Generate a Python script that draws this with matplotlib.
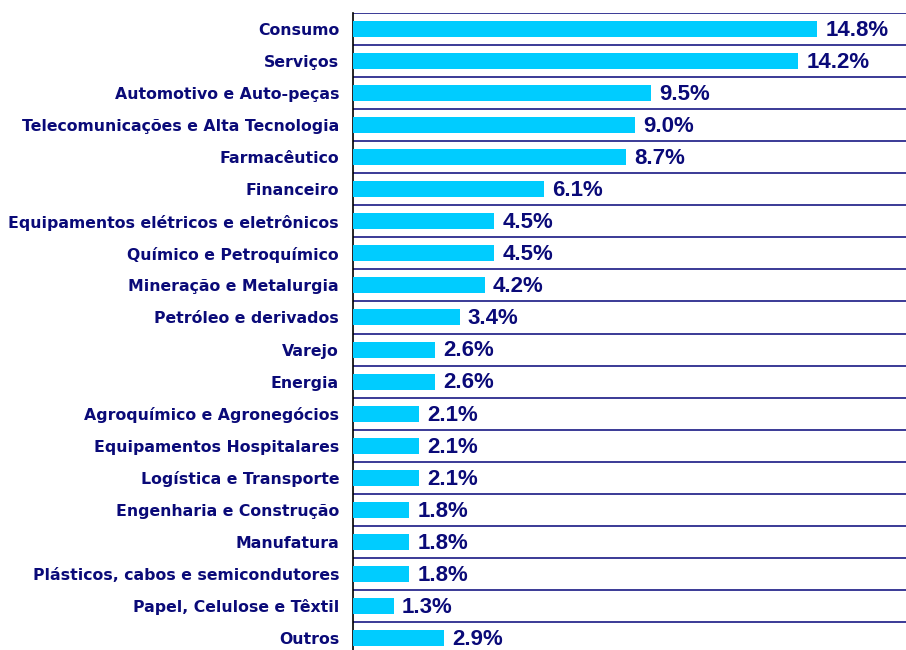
import numpy as np
import matplotlib
matplotlib.use("Agg")
import matplotlib.pyplot as plt
from matplotlib.ticker import FixedLocator

plt.rcParams["font.family"] = ["Liberation Sans", "DejaVu Sans"]

sectors = ["Consumo", "Serviços", "Automotivo e Auto-peças",
           "Telecomunicações e Alta Tecnologia", "Farmacêutico", "Financeiro",
           "Equipamentos elétricos e eletrônicos", "Químico e Petroquímico",
           "Mineração e Metalurgia", "Petróleo e derivados", "Varejo", "Energia",
           "Agroquímico e Agronegócios", "Equipamentos Hospitalares",
           "Logística e Transporte", "Engenharia e Construção", "Manufatura",
           "Plásticos, cabos e semicondutores", "Papel, Celulose e Têxtil",
           "Outros"]
shares = [14.8, 14.2, 9.5, 9.0, 8.7, 6.1, 4.5, 4.5, 4.2, 3.4, 2.6, 2.6,
          2.1, 2.1, 2.1, 1.8, 1.8, 1.8, 1.3, 2.9]

NAVY = "#0a0a78"
BAR = "#00ccff"
GRID = "#3a3a96"

fig = plt.figure(figsize=(9.06, 6.5), dpi=100)
ax = fig.add_axes([353 / 906, -4 / 650, 1 - 353 / 906, 641 / 650])

y = np.arange(len(sectors))
ax.barh(y, shares, height=0.5, color=BAR, zorder=3)

# value labels just right of each bar
for yi, v in zip(y, shares):
    ax.annotate(f"{v:.1f}%", xy=(v, yi), xytext=(6, -1),
                textcoords="offset points", va="center", ha="left",
                fontsize=16, fontweight="bold", color=NAVY)

ax.set_yticks(y)
# DejaVu is wider, closer to the spaced-out label text of the original
ax.set_yticklabels(sectors, fontsize=11.3, fontweight="bold", color=NAVY,
                   family=["DejaVu Sans"])
ax.tick_params(axis="y", length=0, pad=10)
ax.yaxis.set_minor_locator(FixedLocator(np.arange(-0.5, len(sectors), 1.0)))
ax.tick_params(axis="y", which="minor", length=0)
ax.grid(axis="y", which="minor", color=GRID, lw=1.4, zorder=1)
ax.set_xticks([])
ax.set_xlim(0, (906 - 353) / 31.35)
ax.set_ylim(len(sectors) - 0.5, -0.5)

for s in ["top", "right", "bottom"]:
    ax.spines[s].set_visible(False)
ax.spines["left"].set_color("black")
ax.spines["left"].set_linewidth(1.2)

fig.savefig("out.png", dpi=100)
